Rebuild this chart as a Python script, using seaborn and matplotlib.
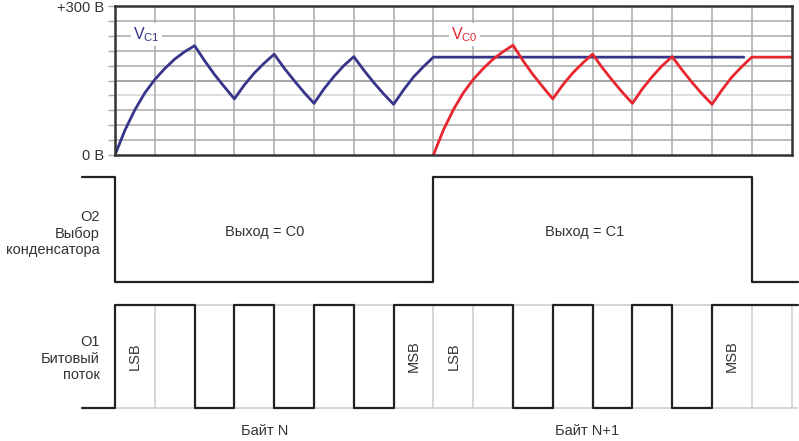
import numpy as np
import matplotlib
matplotlib.use("Agg")
import matplotlib.pyplot as plt
import seaborn as sns

# ---------------------------------------------------------------
# data (time in bit slots, voltages in volts)
# ---------------------------------------------------------------
quarter_slots = np.arange(0, 8.01, 0.25)

vc1_volts = [0, 50, 91, 125, 152, 174, 193, 208, 220,
             190, 162, 137, 113,
             141, 165, 185, 203,
             175, 150, 126, 104,
             133, 158, 180, 198,
             171, 146, 123, 102,
             131, 157, 178, 197]
vc1_hold_end = 15.8

vc0_volts = [0, 50, 91, 125, 152, 174, 193, 208, 221,
             190, 162, 137, 113,
             141, 165, 185, 203,
             175, 150, 126, 104,
             133, 158, 180, 198,
             171, 146, 123, 102,
             131, 157, 178, 197]
vc0_hold_end = 17.0

# O2 capacitor select: level changes
o2_times = [-0.83, 0, 8, 16, 17.16]
o2_levels = [1, 0, 1, 0, 0]

# O1 bit stream, LSB first
byte_n = [1, 1, 0, 1, 0, 1, 0, 1]
byte_n1 = [1, 1, 0, 1, 0, 1, 0, 1]
o1_times = [-0.83] + list(range(0, 17)) + [17.16]
o1_levels = [0] + byte_n + byte_n1 + [1, 1]

bit_labels = {0: "LSB", 7: "MSB", 8: "LSB", 15: "MSB"}

# ---------------------------------------------------------------
# layout helpers (pixel geometry of the 799x441 picture)
# ---------------------------------------------------------------
W, H = 799, 441
X0, SLOT = 115.0, 39.8
navy = "#36358a"
red = "#e8262f"
dark = "#333333"

sns.set_style("white")
plt.rcParams["font.family"] = ["Liberation Sans", "DejaVu Sans"]
plt.rcParams["mathtext.default"] = "regular"

fig = plt.figure(figsize=(W / 100, H / 100), dpi=100)


def fig_rect(left, top, right, bottom):
    return [left / W, 1 - bottom / H, (right - left) / W, (bottom - top) / H]


xlim_full = (-X0 / SLOT, (W - X0) / SLOT)

# ---------------- top panel: capacitor voltages ----------------
ax = fig.add_axes(fig_rect(X0, 6, X0 + 17 * SLOT, 155))
ax.set_xlim(0, 17)
ax.set_ylim(0, 300)
for v in range(30, 300, 30):
    c = "#a9a9a9"
    if v == 150:
        c = "#8c8c8c"
    if v == 120:
        c = "#d4d4d4"
    ax.axhline(v, color=c, lw=1.1, zorder=1)
for s in range(1, 17):
    ax.axvline(s, color="#a9a9a9", lw=1.1, zorder=1)

t1 = list(quarter_slots) + [vc1_hold_end]
sns.lineplot(x=t1, y=vc1_volts + [vc1_volts[-1]], ax=ax, color=navy,
             lw=2.0, sort=False, estimator=None, zorder=3)
t0 = list(8 + quarter_slots) + [vc0_hold_end]
sns.lineplot(x=t0, y=vc0_volts + [vc0_volts[-1]], ax=ax, color=red,
             lw=2.0, sort=False, estimator=None, zorder=4, clip_on=False)

ax.text(0.45, 242, "V$_{C1}$", color=navy, fontsize=11.5, va="center",
        ha="left", bbox=dict(fc="white", ec="none", pad=1.5), zorder=5)
ax.text(8.45, 242, "V$_{C0}$", color=red, fontsize=11.5, va="center",
        ha="left", bbox=dict(fc="white", ec="none", pad=1.5), zorder=5)

ax.set_xticks([])
yt = list(range(0, 301, 30))
ax.set_yticks(yt)
ax.set_yticklabels(["0 В"] + [""] * 9 + ["+300 В"])
ax.tick_params(axis="y", length=5, width=1, color="#a9a9a9", pad=3,
               labelsize=10.5, labelcolor=dark, left=True)
for sp in ax.spines.values():
    sp.set_color(dark)
    sp.set_linewidth(1.8)
    sp.set_zorder(6)
ax.set_xlabel("")
ax.set_ylabel("")

# ---------------- middle panel: O2 -----------------------------
O2_HI, O2_LO = 176.7, 281.7
ax2 = fig.add_axes(fig_rect(0, 160, W, 295))
ax2.set_xlim(*xlim_full)
ax2.set_ylim((O2_LO - 295) / (O2_LO - O2_HI), (O2_LO - 160) / (O2_LO - O2_HI))
ax2.axis("off")
sns.lineplot(x=o2_times, y=o2_levels, ax=ax2, color="#222222", lw=1.6,
             drawstyle="steps-post", sort=False, estimator=None)
ax2.text(-0.38, 0.46, "O2\nВыбор\nконденсатора", ha="right", va="center",
         multialignment="right", fontsize=10.5, linespacing=1.22, color=dark)
ax2.text(3.75, 0.47, "Выход = C0", ha="center", va="center",
         fontsize=10.5, color=dark)
ax2.text(11.8, 0.47, "Выход = C1", ha="center", va="center",
         fontsize=10.5, color=dark)

# ---------------- bottom panel: O1 -----------------------------
O1_HI, O1_LO = 305.0, 408.0
ax3 = fig.add_axes(fig_rect(0, 295, W, H))
ax3.set_xlim(*xlim_full)
ax3.set_ylim((O1_LO - H) / (O1_LO - O1_HI), (O1_LO - 295) / (O1_LO - O1_HI))
ax3.axis("off")
ax3.vlines(range(1, 18), 0, 1, color="#cccccc", lw=1.1, zorder=1)
ax3.hlines([0, 1], 0, o1_times[-1], color="#cccccc", lw=1.1, zorder=1)
sns.lineplot(x=o1_times, y=o1_levels, ax=ax3, color="#222222", lw=1.6,
             drawstyle="steps-post", sort=False, estimator=None, zorder=3)
for slot, lab in bit_labels.items():
    ax3.text(slot + 0.5, 0.5, lab, rotation=90, ha="center", va="center",
             fontsize=10.5, color=dark)
ax3.text(-0.38, 0.48, "O1\nБитовый\nпоток", ha="right", va="center",
         multialignment="right", fontsize=10.5, linespacing=1.25, color=dark)
ax3.text(3.75, -0.265, "Байт N", ha="center", va="baseline",
         fontsize=10.5, color=dark)
ax3.text(11.85, -0.265, "Байт N+1", ha="center", va="baseline",
         fontsize=10.5, color=dark)

fig.savefig("out.png", dpi=100)
